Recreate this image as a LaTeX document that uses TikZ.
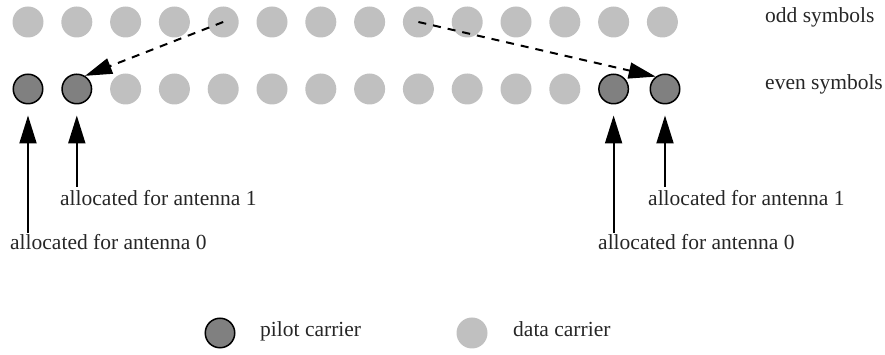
\documentclass[tikz,border=0pt]{standalone}
\usepackage{fontspec}
\setmainfont{Liberation Serif}
\usetikzlibrary{arrows.meta}
\definecolor{datagray}{HTML}{C0C0C0}
\definecolor{pilotgray}{HTML}{808080}
\tikzset{
  datac/.style={circle, fill=datagray, minimum size=31pt, inner sep=0pt},
  pilotc/.style={circle, fill=pilotgray, draw=black, line width=1.5pt, minimum size=29.5pt, inner sep=0pt},
  lbl/.style={anchor=base west, inner sep=0pt, text=black!85, font=\fontsize{21.5pt}{26pt}\selectfont},
  uparrow/.style={line width=2pt, -{Triangle[length=28pt,width=17pt]}},
  dasharrow/.style={line width=2pt, dash pattern=on 8pt off 7pt, -{Triangle[length=27pt,width=16pt]}}
}
\begin{document}
\begin{tikzpicture}[x=1pt,y=1pt]
\useasboundingbox (0,0) rectangle (885,355);
% odd symbols row
\foreach \i in {1,...,14} {
  \node[datac] (o\i) at ({28+(\i-1)*48.8},333) {};
}
% even symbols row
\foreach \i in {3,...,12} {
  \node[datac] (e\i) at ({28+(\i-1)*48.8},266) {};
}
\foreach \i in {1,2,13} {
  \node[pilotc] (e\i) at ({28+(\i-1)*48.8},266) {};
}
\node[pilotc] (e14) at (665,266) {};
% row labels
\node[lbl] (odd) at (765,332) {odd symbols};
\node[lbl] (even) at (765,265) {even symbols};
% dashed arrows
\draw[dasharrow] (o5.center) -- (e2.58);
\draw[dasharrow] (o9.center) -- (e14.127);
% antenna labels
\node[lbl] (la1) at (60,149) {allocated for antenna 1};
\node[lbl] (la0) at (10,105) {allocated for antenna 0};
\node[lbl] (ra1) at (648,149) {allocated for antenna 1};
\node[lbl] (ra0) at (598,105) {allocated for antenna 0};
% up arrows
\draw[uparrow] ([yshift=17pt]la0.base -| e1.south) -- ([yshift=-11pt]e1.south);
\draw[uparrow] ([yshift=19pt]la1.base -| e2.south) -- ([yshift=-11pt]e2.south);
\draw[uparrow] ([yshift=17pt]ra0.base -| e13.south) -- ([yshift=-11pt]e13.south);
\draw[uparrow] ([yshift=19pt]ra1.base -| e14.south) -- ([yshift=-11pt]e14.south);
% legend
\node[pilotc] (lp) at (220,22) {};
\node[lbl] (lpt) at (260,18) {pilot carrier};
\node[datac] (ld) at (472,22) {};
\node[lbl] (ldt) at (513,18) {data carrier};
\end{tikzpicture}
\end{document}
